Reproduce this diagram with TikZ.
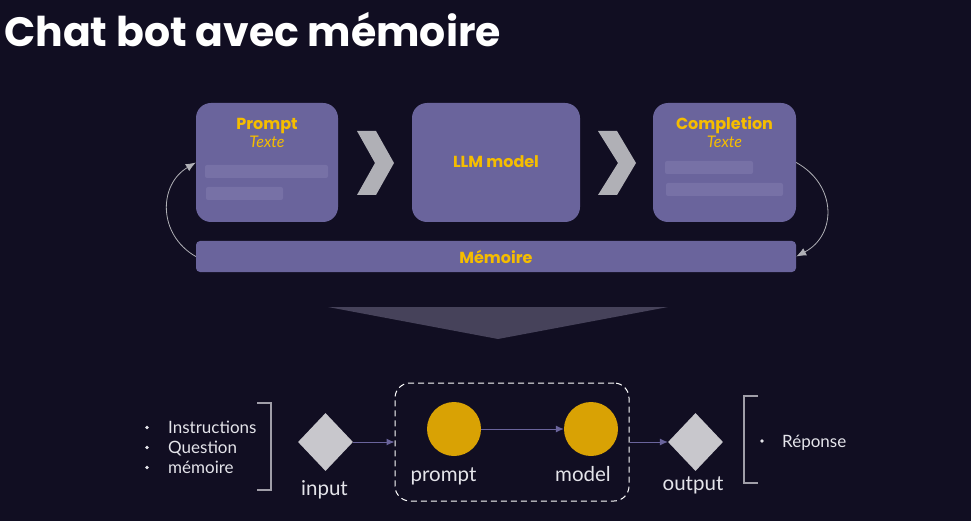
\documentclass[tikz,border=0pt]{standalone}
\usepackage{fontspec}
\setmainfont{Lato}
\newfontfamily\headfont{Poppins}
\usepackage{tikz}
\usetikzlibrary{shapes.geometric}
\usetikzlibrary{positioning}
\usetikzlibrary{arrows.meta}
\definecolor{bgcol}{HTML}{110E22}
\definecolor{boxcol}{HTML}{6A649C}
\definecolor{barcol}{HTML}{7771A6}
\definecolor{gold}{HTML}{F5BD00}
\definecolor{chevcol}{HTML}{B0B0B6}
\definecolor{funnelcol}{HTML}{46425A}
\definecolor{dotcol}{HTML}{D9A204}
\definecolor{diacol}{HTML}{C8C7CC}
\definecolor{txtcol}{HTML}{E4E4EA}
\definecolor{brkcol}{HTML}{A09EA8}
\begin{document}
\begin{tikzpicture}[x=1pt,y=-1pt,
	box/.style={rounded corners=15pt,fill=boxcol,minimum height=119pt,inner sep=0pt},
	hlabel/.style={anchor=base,inner sep=0pt,text=gold,font=\headfont\bfseries\fontsize{16}{19}\selectfont},
	sublabel/.style={anchor=base,inner sep=0pt,text=gold,font=\itshape\fontsize{16}{19}\selectfont},
	curve/.style={draw=chevcol,line width=0.8pt,-{Latex[length=10pt,width=8pt]}},
	flow/.style={draw=boxcol,line width=1pt,-{Latex[length=8pt,width=7pt]}},
	dia/.style={diamond,fill=diacol,minimum width=55pt,minimum height=58pt,inner sep=0pt},
	dot/.style={circle,fill=dotcol,minimum size=54pt,inner sep=0pt},
	lbl/.style={anchor=base,inner sep=0pt,text=txtcol,font=\fontsize{20.5}{24}\selectfont},
	item/.style={anchor=base west,inner sep=0pt,text=txtcol,font=\fontsize{17}{20}\selectfont},
	brk/.style={draw=brkcol,line width=1.2pt}]
	\useasboundingbox (0,0) rectangle (971,521);
	\fill[bgcol] (0,0) rectangle (971,521);
	\node[anchor=base west,inner sep=0pt,text=white,font=\headfont\bfseries\fontsize{41}{48}\selectfont] (title) at (4,47) {Chat bot avec mémoire};
	\node[box,minimum width=142pt] (prompt) at (267,162.5) {};
	\node[box,minimum width=168pt] (llm) at (496,162.5) {};
	\node[box,minimum width=143pt] (completion) at (724.5,162.5) {};
	\node[fill=boxcol,rounded corners=4pt,minimum width=600pt,minimum height=31pt,inner sep=0pt] (memoire) at (496,256.5) {};
	\node[hlabel] (promptlbl) at (267,130) {Prompt};
	\node[sublabel] (prompttxt) at (267,148) {Texte};
	\node[hlabel] (llmlbl) at (496,168) {LLM model};
	\node[hlabel] (completionlbl) at (724.5,130) {Completion};
	\node[sublabel] (completiontxt) at (724.5,148) {Texte};
	\node[hlabel] (memoirelbl) at (496,263) {Mémoire};
	\fill[barcol,rounded corners=2pt] (205,165) rectangle (328,178);
	\fill[barcol,rounded corners=2pt] (206,187) rectangle (283,200);
	\fill[barcol,rounded corners=2pt] (665,161) rectangle (753,174);
	\fill[barcol,rounded corners=2pt] (666,183) rectangle (783,196);
	\fill[chevcol] (357,131) -- (376,131) -- (394,163) -- (376,195) -- (357,195) -- (375,163) -- cycle;
	\fill[chevcol] (598,131) -- (617,131) -- (636,163) -- (617,195) -- (598,195) -- (618,163) -- cycle;
	\draw[curve] (memoire.west) .. controls (158,235) and (158,185) .. (prompt.west);
	\draw[curve] (completion.east) .. controls (837,185) and (837,235) .. (memoire.east);
	\fill[funnelcol] (328,307) -- (668,307) -- (498,339) -- cycle;
	\foreach \txt [count=\i] in {Instructions,Question,mémoire} {
		\node[item] (item\i) at (168,413+20*\i) {\txt};
		\fill[txtcol] (147,407.5+20*\i) circle (1.8pt);
	}
	\draw[brk] (257,403) -- (271,403) -- (271,490) -- (257,490);
	\node[dia] (input) at (325.5,442) {};
	\node[lbl] (inputlbl) at (324.5,495) {input};
	\node[draw=white,line width=1pt,dash pattern=on 6pt off 4pt,rounded corners=15pt,minimum width=234pt,minimum height=118pt,inner sep=0pt] (group) at (512,442) {};
	\node[dot] (pnode) at (454,429) {};
	\node[dot] (mnode) at (591,429) {};
	\node[lbl] (pnodelbl) at (443.5,481) {prompt};
	\node[lbl] (mnodelbl) at (583,481) {model};
	\node[dia] (output) at (695.5,442) {};
	\node[lbl] (outputlbl) at (693,490) {output};
	\draw[flow] (input.east) -- (group.west);
	\draw[flow] (pnode) -- (mnode);
	\draw[flow] (group.east) -- (output.west);
	\draw[brk] (758,396) -- (744,396) -- (744,483) -- (758,483);
	\fill[txtcol] (762,441) circle (1.8pt);
	\node[item] (reponse) at (782,447) {Réponse};
\end{tikzpicture}
\end{document}
